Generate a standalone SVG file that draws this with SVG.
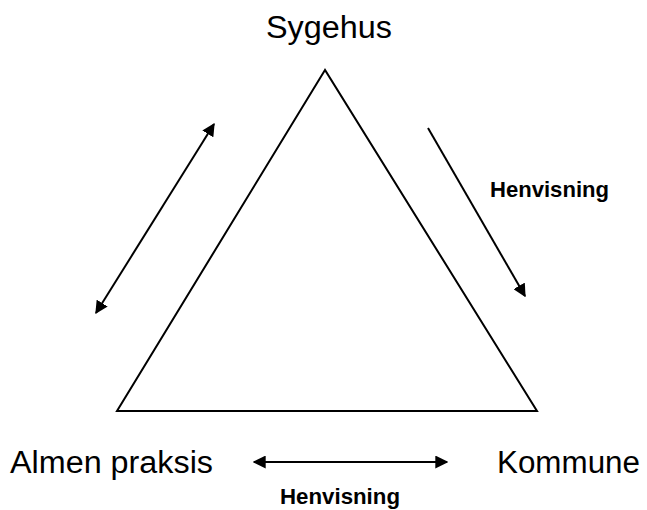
<svg xmlns="http://www.w3.org/2000/svg" width="647" height="510" viewBox="0 0 647 510">
<style>
.lbl{font-family:"Liberation Sans",Arial,sans-serif;font-size:31px;fill:#000}
.small{font-family:"Liberation Sans",Arial,sans-serif;font-size:22px;font-weight:bold;fill:#000}
.conn{stroke:#000;stroke-width:2;fill:none}
</style>
<defs>
<marker id="ah" viewBox="0 0 10 10" refX="9" refY="5" markerWidth="6.5" markerHeight="6.5" orient="auto-start-reverse" markerUnits="strokeWidth">
<path d="M0,0 L10,5 L0,10 z" fill="#000"/>
</marker>
</defs>
<rect width="647" height="510" fill="#fff"/>
<g id="triangle">
<polygon points="325,70 117,411 537,411" fill="none" stroke="#000" stroke-width="2"/>
</g>
<g id="sygehus"><text class="lbl" x="329" y="38" text-anchor="middle" textLength="126" lengthAdjust="spacingAndGlyphs">Sygehus</text></g>
<g id="almen"><text class="lbl" x="10" y="473" textLength="203" lengthAdjust="spacingAndGlyphs">Almen praksis</text></g>
<g id="kommune"><text class="lbl" x="497" y="473" textLength="143" lengthAdjust="spacingAndGlyphs">Kommune</text></g>
<g id="connectors">
<line class="conn" x1="96" y1="313" x2="214" y2="124" marker-start="url(#ah)" marker-end="url(#ah)"/>
<line class="conn" x1="428" y1="128" x2="525" y2="296" marker-end="url(#ah)"/>
<line class="conn" x1="254" y1="462" x2="447" y2="462" marker-start="url(#ah)" marker-end="url(#ah)"/>
<text class="small" x="490" y="197" textLength="119" lengthAdjust="spacingAndGlyphs">Henvisning</text>
<text class="small" x="280" y="504" textLength="120" lengthAdjust="spacingAndGlyphs">Henvisning</text>
</g>
</svg>
